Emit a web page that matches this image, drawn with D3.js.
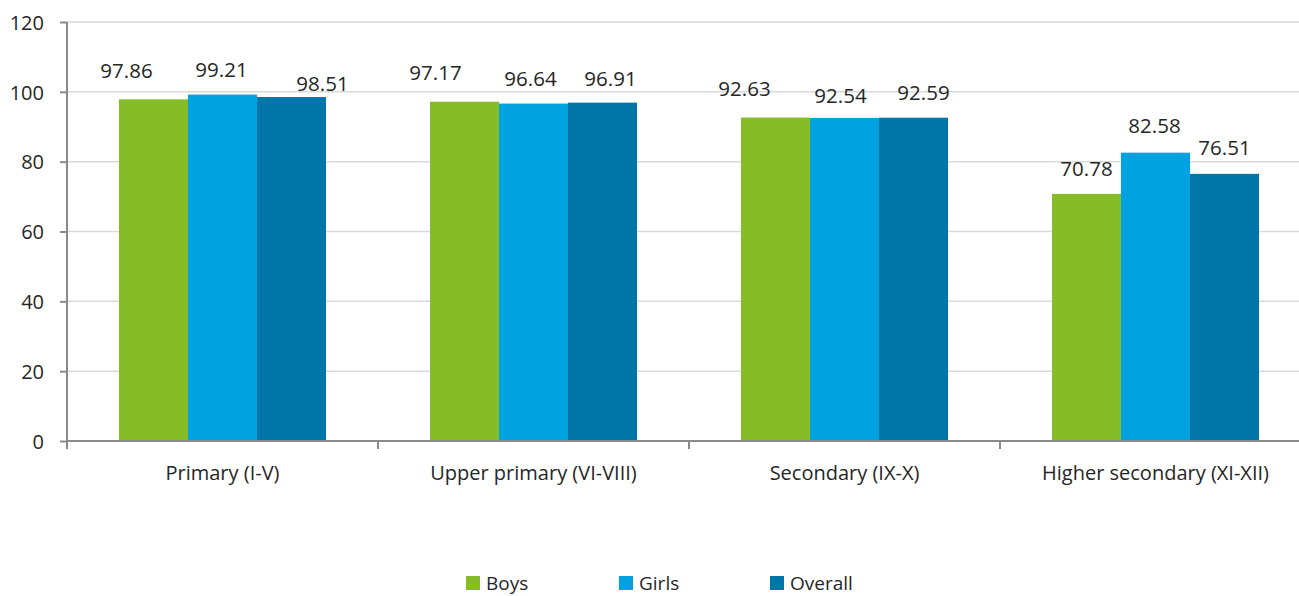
<!DOCTYPE html>
<html><head><meta charset="utf-8">
<script src="https://cdn.jsdelivr.net/npm/d3@7"></script>
<style>
html,body{margin:0;padding:0;background:#fff;overflow:hidden}
svg{display:block;font-family:"Open Sans",sans-serif}
</style></head>
<body>
<svg id="chart" width="1299" height="596"></svg>
<script>
// ---- data ----
const categories = ["Primary (I-V)", "Upper primary (VI-VIII)", "Secondary (IX-X)", "Higher secondary (XI-XII)"];
const seriesNames = ["Boys", "Girls", "Overall"];
const boys    = [97.86, 97.17, 92.63, 70.78];
const girls   = [99.21, 96.64, 92.54, 82.58];
const overall = [98.51, 96.91, 92.59, 76.51];
const yTicks  = [0, 20, 40, 60, 80, 100, 120];

// ---- style / layout ----
const colors = ["#86bc25", "#00a3e0", "#0076a8"];
const seriesValues = [boys, girls, overall];
// label nudges [dx, dy] per series per category (Excel manual placement)
const labelNudge = [
  [[-27,-21],[-29,-22],[-31,-22],[0,-18]],
  [[-1,-18],[-3,-18],[-4,-15],[-1,-20]],
  [[31,-6],[8,-17],[10,-18],[0,-19]]
];

const svg = d3.select("#chart");
const x0 = 67, x1 = 1311, yTop = 22, yBot = 441;

const x = d3.scaleBand().domain(categories).range([x0, x1]).padding(0);
const xs = d3.scaleBand().domain(seriesNames).range([52, x.bandwidth() - 52]).padding(0);
const y = d3.scaleLinear().domain([0, 120]).range([yBot, yTop]);

// gridlines
svg.append("g").selectAll("line").data(yTicks.filter(d => d > 0)).join("line")
  .attr("x1", x0).attr("x2", x1)
  .attr("y1", d => y(d)).attr("y2", d => y(d))
  .attr("stroke", "#d9d9d9").attr("stroke-width", 1.5);

// y axis
const yAxis = svg.append("g").attr("transform", `translate(${x0},0)`)
  .call(d3.axisLeft(y).tickValues(yTicks).tickSize(7).tickPadding(16).tickFormat(d3.format("d")));
yAxis.select(".domain").attr("stroke", "#8a8a8a").attr("stroke-width", 2)
  .attr("d", `M0,${yTop}V${yBot + 8}`);
yAxis.selectAll(".tick line").attr("stroke", "#8a8a8a").attr("stroke-width", 2);
yAxis.selectAll(".tick text").attr("font-size", 20).attr("fill", "#262626")
  .attr("font-family", "'Open Sans',sans-serif").attr("dy", "0.36em");

// bars
const groups = svg.append("g").selectAll("g").data(categories).join("g")
  .attr("transform", d => `translate(${x(d)},0)`);
groups.selectAll("rect").data((c, i) => seriesNames.map((s, j) => ({s, j, i, v: seriesValues[j][i]})))
  .join("rect")
  .attr("x", d => xs(d.s)).attr("width", xs.bandwidth())
  .attr("y", d => y(d.v)).attr("height", d => y(0) - y(d.v))
  .attr("fill", d => colors[d.j]);

// x axis
const xAxisG = svg.append("g").attr("transform", `translate(0,${yBot})`);
xAxisG.append("line").attr("x1", x0).attr("x2", x1).attr("stroke", "#8a8a8a").attr("stroke-width", 2);
xAxisG.selectAll("line.tk").data(categories.map(c => x(c)).concat([x1])).join("line")
  .attr("class", "tk").attr("x1", d => d).attr("x2", d => d).attr("y1", 0).attr("y2", 8)
  .attr("stroke", "#8a8a8a").attr("stroke-width", 2);
xAxisG.selectAll("text").data(categories).join("text")
  .attr("x", d => x(d) + x.bandwidth() / 2).attr("y", 39)
  .attr("text-anchor", "middle").attr("font-size", 20).attr("fill", "#262626")
  .text(d => d);

// value labels
groups.selectAll("text.val").data((c, i) => seriesNames.map((s, j) => ({s, j, i, v: seriesValues[j][i]})))
  .join("text").attr("class", "val")
  .attr("x", d => xs(d.s) + xs.bandwidth() / 2 + labelNudge[d.j][d.i][0])
  .attr("y", d => y(d.v) + labelNudge[d.j][d.i][1])
  .attr("text-anchor", "middle").attr("font-size", 20.5).attr("fill", "#262626")
  .text(d => d3.format(".2f")(d.v));

// legend
const legendX = [466, 619, 770];
const lg = svg.append("g").selectAll("g").data(seriesNames).join("g")
  .attr("transform", (d, i) => `translate(${legendX[i]},576)`);
lg.append("rect").attr("width", 14).attr("height", 14).attr("fill", (d, i) => colors[i]);
lg.append("text").attr("x", 20).attr("y", 14).attr("font-size", 19).attr("fill", "#262626").text(d => d);
</script>
</body></html>
